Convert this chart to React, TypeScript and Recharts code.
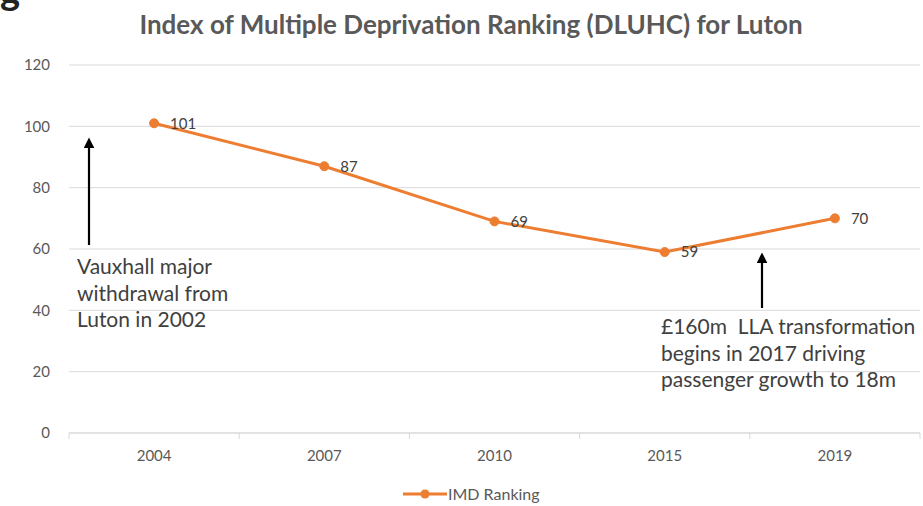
import React from 'react';
import { LineChart, Line, XAxis, YAxis, CartesianGrid, LabelList } from 'recharts';

const years = ['2004', '2007', '2010', '2015', '2019'];
const imdRanking = [101, 87, 69, 59, 70];
const yTicks = [0, 20, 40, 60, 80, 100, 120];

const data = years.map((y, i) => ({ year: y, rank: imdRanking[i] }));

const W = 923;
const H = 506;
const PLOT_LEFT = 69;
const PLOT_RIGHT = 920;
const BAND = (PLOT_RIGHT - PLOT_LEFT) / years.length;
const FONT = 'Lato, "Noto Sans", sans-serif';
const ORANGE = '#ED7D31';

// Excel-style category tick: label at centre, small dividers at band edges
const CategoryTick = (props: any) => {
  const { x, y, payload, index } = props;
  const left = x - BAND / 2;
  return (
    <g>
      <line x1={left} y1={y - 8} x2={left} y2={y - 2} stroke="#d9d9d9" />
      {index === years.length - 1 && (
        <line x1={left + BAND} y1={y - 8} x2={left + BAND} y2={y - 2} stroke="#d9d9d9" />
      )}
      <text x={x} y={y + 20} textAnchor="middle" fill="#595959" fontSize={15} fontFamily={FONT}>
        {payload.value}
      </text>
    </g>
  );
};

const Note = ({ left, top, lines }: { left: number; top: number; lines: string[] }) => (
  <div
    style={{
      position: 'absolute',
      left,
      top,
      fontFamily: FONT,
      fontSize: 21,
      lineHeight: '26.5px',
      color: '#404040',
      whiteSpace: 'pre',
    }}
  >
    {lines.map(l => (
      <div key={l}>{l}</div>
    ))}
  </div>
);

export default function App() {
  return (
    <div style={{ position: 'absolute', left: 0, top: 0, width: W, height: H, background: '#fff', overflow: 'hidden' }}>
      {/* fragment of a heading cut off by the crop */}
      <div style={{ position: 'absolute', left: 0, top: -33, fontFamily: FONT, fontSize: 38, fontWeight: 700, color: '#222' }}>g</div>
      <div
        style={{
          position: 'absolute',
          left: 0,
          width: 942,
          top: 8,
          textAlign: 'center',
          fontFamily: FONT,
          fontSize: 26,
          lineHeight: '32px',
          fontWeight: 700,
          color: '#595959',
        }}
      >
        Index of Multiple Deprivation Ranking (DLUHC) for Luton
      </div>
      <LineChart width={W} height={H} data={data} margin={{ top: 65, right: W - PLOT_RIGHT, bottom: 43, left: 0 }}>
        <CartesianGrid vertical={false} stroke="#d9d9d9" />
        <XAxis
          dataKey="year"
          height={30}
          padding={{ left: BAND / 2, right: BAND / 2 }}
          axisLine={{ stroke: '#d9d9d9' }}
          tickLine={false}
          tick={<CategoryTick />}
          interval={0}
        />
        <YAxis
          width={PLOT_LEFT}
          domain={[0, 120]}
          ticks={yTicks}
          axisLine={false}
          tickLine={false}
          tickMargin={13}
          tick={{ fill: '#595959', fontSize: 15, fontFamily: FONT }}
        />
        <Line
          dataKey="rank"
          stroke={ORANGE}
          strokeWidth={3}
          dot={{ r: 4.5, fill: ORANGE, stroke: ORANGE, strokeWidth: 1 }}
          isAnimationActive={false}
        >
          <LabelList dataKey="rank" position="right" offset={16} fill="#404040" fontSize={15} fontFamily={FONT} />
        </Line>
      </LineChart>

      <svg style={{ position: 'absolute', left: 0, top: 0 }} width={W} height={H}>
        <defs>
          <marker id="ah" markerWidth="5" markerHeight="5" refX="2" refY="2.5" orient="auto">
            <path d="M0,0 L5,2.5 L0,5 z" fill="#000" />
          </marker>
        </defs>
        <line x1={89} y1={245} x2={89} y2={144} stroke="#000" strokeWidth={2.2} markerEnd="url(#ah)" />
        <line x1={762} y1={308} x2={762} y2={259} stroke="#000" strokeWidth={2.2} markerEnd="url(#ah)" />
        {/* legend */}
        <line x1={403} y1={494} x2={447} y2={494} stroke={ORANGE} strokeWidth={3} />
        <circle cx={425} cy={494} r={4.5} fill={ORANGE} />
        <text x={448} y={499.5} fontSize={16} fill="#595959" fontFamily={FONT}>IMD Ranking</text>
      </svg>

      <Note left={77} top={253} lines={['Vauxhall major', 'withdrawal from', 'Luton in 2002']} />
      <Note left={661} top={313} lines={['£160m  LLA transformation', 'begins in 2017 driving', 'passenger growth to 18m']} />
    </div>
  );
}
